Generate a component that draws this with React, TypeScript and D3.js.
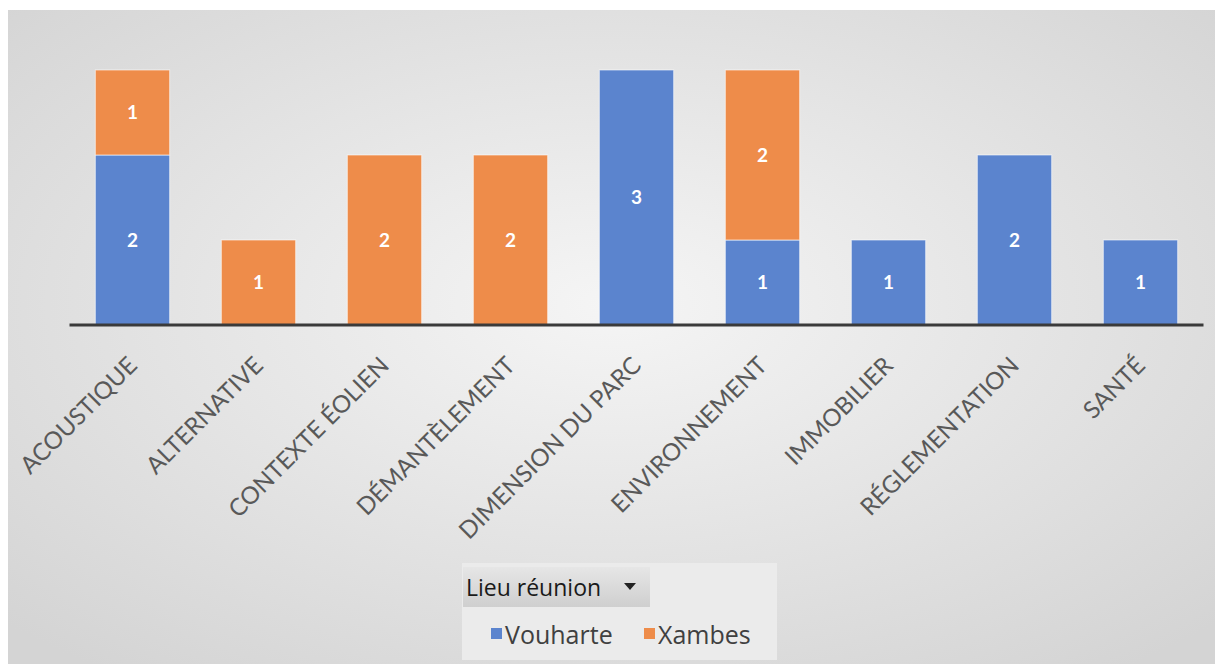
import * as d3 from "d3";
import React from "react";

const categories = [
  "ACOUSTIQUE",
  "ALTERNATIVE",
  "CONTEXTE ÉOLIEN",
  "DÉMANTÈLEMENT",
  "DIMENSION DU PARC",
  "ENVIRONNEMENT",
  "IMMOBILIER",
  "RÉGLEMENTATION",
  "SANTÉ",
];
const seriesNames = ["Vouharte", "Xambes"];
const vouharte = [2, 0, 0, 0, 3, 1, 1, 2, 1];
const xambes = [1, 1, 2, 2, 0, 2, 0, 0, 0];
const colors = ["#5B84CE", "#EE8C4A"];

const W = 1215;
const H = 664;
const font = "Lato, 'Open Sans', sans-serif";
const legendFont = "'Open Sans', sans-serif";

const App = () => {
  const x = d3
    .scaleBand()
    .domain(categories)
    .range([69.5, 1203.5])
    .paddingInner(0.41)
    .paddingOuter(0.205);
  const y = d3.scaleLinear().domain([0, 3]).range([325, 70]);

  const rows = categories.map((c, i) => ({
    cat: c,
    Vouharte: vouharte[i],
    Xambes: xambes[i],
  }));
  const stacked = d3.stack<any>().keys(seriesNames)(rows);

  return (
    <svg
      width={W}
      height={H}
      style={{ position: "absolute", left: 0, top: 0 }}
      fontFamily={font}
    >
      <defs>
        <radialGradient id="bg" cx="50%" cy="45%" r="70%">
          <stop offset="0%" stopColor="#f5f5f5" />
          <stop offset="100%" stopColor="#d4d4d4" />
        </radialGradient>
        <linearGradient id="btn" x1="0" y1="0" x2="0" y2="1">
          <stop offset="0%" stopColor="#e6e6e6" />
          <stop offset="100%" stopColor="#cfcfcf" />
        </linearGradient>
      </defs>
      <rect width={W} height={H} fill="#fff" />
      <rect x={8} y={10} width={W - 8} height={H - 10} fill="url(#bg)" />

      {stacked.map((s, si) => (
        <g key={s.key} fill={colors[si]}>
          {s.map((d, i) =>
            d[1] - d[0] > 0 ? (
              <g key={i}>
                <rect
                  x={x(categories[i])}
                  y={y(d[1])}
                  width={x.bandwidth()}
                  height={y(d[0]) - y(d[1])}
                  stroke="#fff"
                  strokeOpacity={0.6}
                  strokeWidth={1}
                />
                <text
                  x={(x(categories[i]) as number) + x.bandwidth() / 2}
                  y={(y(d[0]) + y(d[1])) / 2}
                  dy="0.35em"
                  textAnchor="middle"
                  fill="#fff"
                  fontWeight="bold"
                  fontSize={19}
                >
                  {d[1] - d[0]}
                </text>
              </g>
            ) : null
          )}
        </g>
      ))}

      <line
        x1={x.range()[0]}
        x2={x.range()[1]}
        y1={y(0)}
        y2={y(0)}
        stroke="#3a3a3a"
        strokeWidth={3}
      />

      {categories.map((c) => {
        const cx = (x(c) as number) + x.bandwidth() / 2 + 6;
        const cy = 367;
        return (
          <text
            key={c}
            transform={`translate(${cx},${cy}) rotate(-45)`}
            textAnchor="end"
            fontSize={24}
            fill="#595959"
          >
            {c}
          </text>
        );
      })}

      <g fontFamily={legendFont}>
        <rect x={462} y={563} width={315} height={97} fill="#ebebeb" />
        <rect x={463} y={567} width={187} height={40} fill="url(#btn)" />
        <text x={466} y={596} fontSize={23} fill="#1a1a1a">
          Lieu réunion
        </text>
        <path d="M624,583 L636,583 L630,590 Z" fill="#222" />
        {seriesNames.map((n, i) => {
          const lx = i === 0 ? 491 : 644;
          return (
            <g key={n}>
              <rect x={lx} y={628} width={11} height={11} fill={colors[i]} />
              <text x={lx + 14} y={644} fontSize={25} fill="#404040">
                {n}
              </text>
            </g>
          );
        })}
      </g>
    </svg>
  );
};

export default App;
